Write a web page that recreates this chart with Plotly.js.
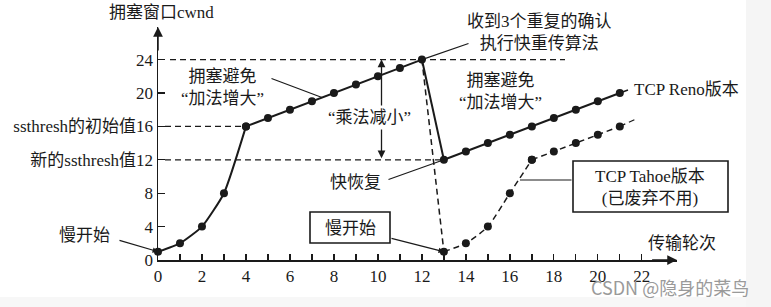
<!DOCTYPE html>
<html>
<head>
<meta charset="utf-8">
<script src="https://cdn.plot.ly/plotly-3.0.1.min.js"></script>
<style>html,body{margin:0;padding:0;background:#fff;}#chart{width:771px;height:307px;}</style>
</head>
<body>
<div id="chart"></div>
<script>
// ---- data ----
const rounds = [0,1,2,3,4,5,6,7,8,9,10,11,12,13,14,15,16,17,18,19,20,21];
const renoCwnd = [1,2,4,8,16,17,18,19,20,21,22,23,24,12,13,14,15,16,17,18,19,20];
const tahoeRounds = [13,14,15,16,17,18,19,20,21];
const tahoeCwnd = [1,2,4,8,12,13,14,15,16];
const ssthreshInit = 16;
const ssthreshNew = 12;
const xTickVals = [0,1,2,3,4,5,6,7,8,9,10,11,12,13,14,15,16,17,18,19,20,21,22];
const xTickText = ['0','','2','','4','','6','','8','','10','','12','','14','','16','','18','','20','','22'];
const yTickVals = [0,4,8,12,16,20,24];
const yTickText = ['0','4','8','新的ssthresh值12','ssthresh的初始值16','20','24'];

// ---- geometry helpers (pixel -> paper / data) ----
const L = 158, T = 27, W = 519, H = 233;
const XR = [0, 23.6], YR = [0, 27.9];
const pxp = p => (p - L) / W;
const pyp = p => (T + H - p) / H;
const dx = p => XR[0] + (p - L) / W * (XR[1] - XR[0]);
const dy = p => YR[0] + (T + H - p) / H * (YR[1] - YR[0]);

const INK = '#1a1a1a';
const peakIdx = 12, dropIdx = 13, lastIdx = 21;

const solid = {color: INK, width: 2};
const dashed = {color: INK, width: 1.5, dash: '6px,4px'};
const mk = {color: INK, size: 8};

const traces = [
  { // slow start
    x: rounds.slice(0, 5), y: renoCwnd.slice(0, 5), mode: 'lines+markers',
    line: Object.assign({shape: 'spline', smoothing: 0.5}, solid), marker: mk, cliponaxis: false, hoverinfo: 'skip'
  },
  { // congestion avoidance 1
    x: rounds.slice(4, 13), y: renoCwnd.slice(4, 13), mode: 'lines+markers',
    line: solid, marker: mk, cliponaxis: false, hoverinfo: 'skip'
  },
  { // Tahoe drop
    x: [rounds[peakIdx], tahoeRounds[0]], y: [renoCwnd[peakIdx], tahoeCwnd[0]], mode: 'lines',
    line: dashed, cliponaxis: false, hoverinfo: 'skip'
  },
  { // Reno fast recovery drop
    x: rounds.slice(12, 14), y: renoCwnd.slice(12, 14), mode: 'lines',
    line: solid, cliponaxis: false, hoverinfo: 'skip'
  },
  { // congestion avoidance 2
    x: rounds.slice(13), y: renoCwnd.slice(13), mode: 'lines+markers',
    line: solid, marker: mk, cliponaxis: false, hoverinfo: 'skip'
  },
  { // Tahoe slow start
    x: tahoeRounds.slice(0, 5), y: tahoeCwnd.slice(0, 5), mode: 'lines+markers',
    line: Object.assign({shape: 'spline', smoothing: 0.6}, dashed), marker: mk, cliponaxis: false, hoverinfo: 'skip'
  },
  { // Tahoe congestion avoidance
    x: tahoeRounds.slice(4), y: tahoeCwnd.slice(4), mode: 'lines+markers',
    line: dashed, marker: mk, cliponaxis: false, hoverinfo: 'skip'
  }
];

const txt = (x, y, text, extra) => Object.assign({
  xref: 'paper', yref: 'paper', x: pxp(x), y: pyp(y), text: text, showarrow: false,
  xanchor: 'center', yanchor: 'middle'
}, extra || {});

const arrow = (tipX, tipY, tailPx, tailPy, extra) => Object.assign({
  xref: 'x', yref: 'y', axref: 'x', ayref: 'y', x: tipX, y: tipY, ax: dx(tailPx), ay: dy(tailPy),
  text: '', showarrow: true, arrowhead: 0, arrowwidth: 1.2, arrowcolor: INK, standoff: 0, startstandoff: 0
}, extra || {});

const lastTahoe = tahoeRounds.length - 1;

const annotations = [
  // axis titles
  txt(161, 13, '拥塞窗口cwnd'),
  txt(682, 243, '传输轮次'),
  // axis arrowheads
  {xref: 'x', yref: 'y', axref: 'x', ayref: 'y', x: XR[1], y: 0, ax: XR[1] - 1.2, ay: 0, text: '',
   showarrow: true, arrowhead: 2, arrowsize: 1.3, arrowwidth: 1.5, arrowcolor: INK, standoff: 0},
  {xref: 'x', yref: 'y', axref: 'x', ayref: 'y', x: 0, y: YR[1], ax: 0, ay: YR[1] - 3, text: '',
   showarrow: true, arrowhead: 2, arrowsize: 1.3, arrowwidth: 1.5, arrowcolor: INK, standoff: 0},
  // congestion avoidance 1
  txt(222, 87, '拥塞避免<br>“加法增大”'),
  arrow(dx(322), dy(322 - 158) * 0 + (renoCwnd[4] + (dx(322) - rounds[4])), 270, 78),
  // fast retransmit note
  txt(539, 33, '收到3个重复的确认<br>执行快重传算法'),
  arrow(rounds[peakIdx], renoCwnd[peakIdx], 470, 43),
  // congestion avoidance 2
  txt(500, 91, '拥塞避免<br>“加法增大”'),
  // Reno label
  txt(632, 89, 'TCP Reno版本', {xanchor: 'left'}),
  // multiplicative decrease double arrow
  {xref: 'x', yref: 'y', axref: 'x', ayref: 'y', x: dx(381.5), y: renoCwnd[peakIdx], ax: dx(381.5), ay: ssthreshNew,
   text: '', showarrow: true, arrowhead: 2, startarrowhead: 2, arrowside: 'end+start', arrowsize: 1.2, startarrowsize: 1.2,
   arrowwidth: 1.3, arrowcolor: INK, standoff: 0, startstandoff: 0},
  txt(369, 117, '“乘法减小”', {bgcolor: '#ffffff', borderpad: 2}),
  // fast recovery
  txt(383, 182, '快恢复', {xanchor: 'right'}),
  arrow(rounds[dropIdx], renoCwnd[dropIdx], 387, 180),
  // slow start left
  txt(84, 235, '慢开始'),
  arrow(rounds[0], renoCwnd[0], 118, 240, {arrowhead: 2, arrowsize: 0.9}),
  // slow start box
  txt(350, 228, '慢开始'),
  arrow(tahoeRounds[0], tahoeCwnd[0], 390, 238, {arrowhead: 2, arrowsize: 0.9}),
  // Tahoe box
  txt(650, 187, 'TCP Tahoe版本<br>(已废弃不用)'),
  arrow(dx(520), dy(180), 573, 180),
  // watermark
  txt(670, 287, 'CSDN @隐身的菜鸟', {font: {family: 'Noto Sans CJK SC, DejaVu Sans', size: 18, color: '#9a9a9a'}})
];

const shapes = [
  // light grey edges of the screenshot
  {type: 'rect', xref: 'paper', yref: 'paper', x0: pxp(746), x1: pxp(771), y0: pyp(307), y1: pyp(0),
   fillcolor: '#f5f5f5', line: {width: 0}, layer: 'below'},
  {type: 'rect', xref: 'paper', yref: 'paper', x0: pxp(0), x1: pxp(746), y0: pyp(307), y1: pyp(297),
   fillcolor: '#f7f7f7', line: {width: 0}, layer: 'below'},
  // guide lines
  {type: 'line', xref: 'x', yref: 'y', x0: dx(170), x1: dx(565), y0: renoCwnd[peakIdx], y1: renoCwnd[peakIdx],
   line: {color: INK, width: 1.2, dash: '6px,4px'}},
  {type: 'line', xref: 'x', yref: 'y', x0: dx(165), x1: rounds[4], y0: ssthreshInit, y1: ssthreshInit,
   line: {color: INK, width: 1.2, dash: '6px,4px'}},
  {type: 'line', xref: 'x', yref: 'y', x0: dx(165), x1: rounds[dropIdx], y0: ssthreshNew, y1: ssthreshNew,
   line: {color: INK, width: 1.2, dash: '6px,4px'}},
  // line extensions toward labels
  {type: 'line', xref: 'x', yref: 'y', x0: rounds[lastIdx], y0: renoCwnd[lastIdx], x1: dx(628), y1: dy(90),
   line: {color: INK, width: 1.5}},
  {type: 'line', xref: 'x', yref: 'y', x0: tahoeRounds[lastTahoe], y0: tahoeCwnd[lastTahoe], x1: dx(636), y1: dy(119),
   line: {color: INK, width: 1.3, dash: '6px,4px'}},
  // boxes
  {type: 'rect', xref: 'paper', yref: 'paper', x0: pxp(310), x1: pxp(390), y0: pyp(243), y1: pyp(212),
   line: {color: INK, width: 1.6}},
  {type: 'rect', xref: 'paper', yref: 'paper', x0: pxp(573), x1: pxp(728), y0: pyp(212), y1: pyp(161),
   line: {color: INK, width: 1.6}}
];

const layout = {
  width: 771, height: 307,
  margin: {l: L, r: 771 - L - W, t: T, b: 307 - T - H, pad: 0},
  paper_bgcolor: '#ffffff', plot_bgcolor: 'rgba(0,0,0,0)',
  showlegend: false,
  font: {family: 'Liberation Serif, Noto Sans CJK SC, serif', size: 17, color: INK},
  xaxis: {
    range: XR, showgrid: false, zeroline: false, showline: true, linecolor: INK, linewidth: 1.5,
    tickmode: 'array', tickvals: xTickVals, ticktext: xTickText, ticks: 'inside', ticklen: 6,
    tickwidth: 1.3, tickcolor: INK, tickfont: {size: 17}
  },
  yaxis: {
    range: YR, showgrid: false, zeroline: false, showline: true, linecolor: INK, linewidth: 1.5,
    tickmode: 'array', tickvals: yTickVals, ticktext: yTickText, ticks: 'inside', ticklen: 7,
    tickwidth: 1.3, tickcolor: INK, tickfont: {size: 17}
  },
  annotations: annotations,
  shapes: shapes
};

Plotly.newPlot('chart', traces, layout, {staticPlot: true, displayModeBar: false});
</script>
</body>
</html>
